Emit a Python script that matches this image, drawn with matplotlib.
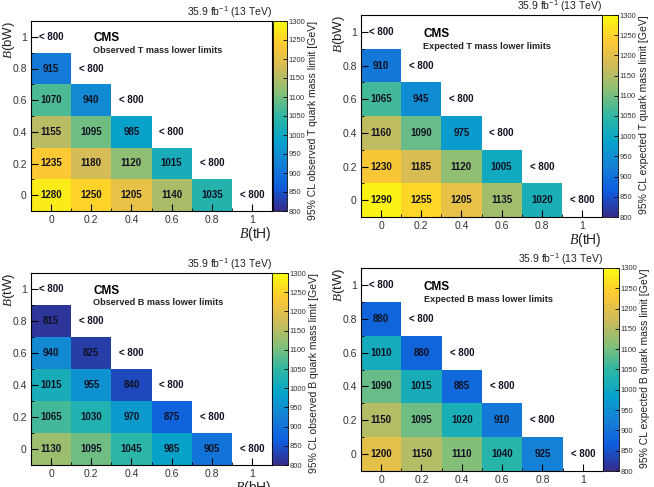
import numpy as np
import matplotlib
matplotlib.use("Agg")
import matplotlib.pyplot as plt
from matplotlib.colors import LinearSegmentedColormap
from matplotlib.transforms import offset_copy

plt.rcParams["font.family"] = ["Liberation Sans", "DejaVu Sans"]
plt.rcParams["mathtext.fontset"] = "custom"
plt.rcParams["mathtext.it"] = "Liberation Serif:italic"
plt.rcParams["mathtext.rm"] = "Liberation Sans"

# branching fractions (bin centres)
fractions = [0.0, 0.2, 0.4, 0.6, 0.8, 1.0]
tick_labels = ["0", "0.2", "0.4", "0.6", "0.8", "1"]

# mass limits [GeV], one list per row (first = lowest row), left to right
t_obs = [[1280, 1250, 1205, 1140, 1035],
         [1235, 1180, 1120, 1015],
         [1155, 1095, 985],
         [1070, 940],
         [915]]
t_exp = [[1290, 1255, 1205, 1135, 1020],
         [1230, 1185, 1120, 1005],
         [1160, 1090, 975],
         [1065, 945],
         [910]]
b_obs = [[1130, 1095, 1045, 985, 905],
         [1065, 1030, 970, 875],
         [1015, 955, 840],
         [940, 825],
         [815]]
b_exp = [[1200, 1150, 1110, 1040, 925],
         [1150, 1095, 1020, 910],
         [1090, 1015, 885],
         [1010, 880],
         [880]]

cb_ticks = list(range(800, 1301, 50))

# ROOT kBird palette
stops = [0, 0.125, 0.25, 0.375, 0.5, 0.625, 0.75, 0.875, 1]
red = [0.2082, 0.0592, 0.0780, 0.0232, 0.1802, 0.5301, 0.8186, 0.9956, 0.9764]
green = [0.1664, 0.3599, 0.5041, 0.6419, 0.7178, 0.7492, 0.7328, 0.7862, 0.9832]
blue = [0.5293, 0.8684, 0.8385, 0.7914, 0.6425, 0.4662, 0.3499, 0.1968, 0.0539]
bird = LinearSegmentedColormap.from_list(
    "bird", list(zip(stops, zip(red, green, blue))))

panels = [
    (t_obs, "Observed T mass lower limits", r"$\mathit{B}$(tH)", r"$\mathit{B}$(bW)",
     "95% CL observed T quark mass limit [GeV]",
     [31, 272, 21, 211], [273, 287]),
    (t_exp, "Expected T mass lower limits", r"$\mathit{B}$(tH)", r"$\mathit{B}$(bW)",
     "95% CL expected T quark mass limit [GeV]",
     [361, 602, 15, 217], [602, 618]),
    (b_obs, "Observed B mass lower limits", r"$\mathit{B}$(bH)", r"$\mathit{B}$(tW)",
     "95% CL observed B quark mass limit [GeV]",
     [31, 272, 273, 465], [272, 288]),
    (b_exp, "Expected B mass lower limits", r"$\mathit{B}$(bH)", r"$\mathit{B}$(tW)",
     "95% CL expected B quark mass limit [GeV]",
     [361, 603, 268, 471], [603, 619]),
]

W, H = 654, 487
fig = plt.figure(figsize=(W / 100, H / 100), dpi=100)

edges = np.arange(-0.1, 1.2, 0.2)

for rows, title, xlab, ylab, cblab, box, cbx in panels:
    l, r, t, b = box
    ax = fig.add_axes([l / W, (H - b) / H, (r - l) / W, (b - t) / H])
    cax = fig.add_axes([cbx[0] / W, (H - b) / H, (cbx[1] - cbx[0]) / W, (b - t) / H])

    grid = np.full((6, 6), np.nan)
    for j, row in enumerate(rows):
        for i, v in enumerate(row):
            grid[j, i] = v
    mesh = ax.pcolormesh(edges, edges, np.ma.masked_invalid(grid),
                         cmap=bird, vmin=800, vmax=1300)

    for j, yv in enumerate(fractions):
        for i, xv in enumerate(fractions):
            if i + j < 5:
                txt = str(int(grid[j, i]))
            elif i + j == 5:
                txt = "< 800"
            else:
                continue
            ax.text(xv, yv, txt, ha="center", va="center",
                    fontsize=7, fontweight="bold", color="#111122")

    ax.set_xlim(-0.1, 1.1)
    ax.set_ylim(-0.1, 1.1)
    ax.set_xticks(fractions)
    ax.set_xticklabels(tick_labels)
    ax.set_yticks(fractions)
    ax.set_yticklabels(tick_labels)
    ax.set_xticks(np.arange(-0.1, 1.11, 0.1), minor=True)
    ax.set_yticks(np.arange(-0.1, 1.11, 0.1), minor=True)
    ax.tick_params(which="both", direction="in", labelsize=7.5, color="black",
                   labelcolor="#333333")
    ax.tick_params(which="major", length=5, pad=3)
    ax.tick_params(which="minor", length=2.5)
    for s in ax.spines.values():
        s.set_linewidth(0.8)

    ax.set_xlabel(xlab, fontsize=10, loc="right", labelpad=0, color="#222222")
    ax.set_ylabel(ylab, fontsize=9.5, loc="top", color="#222222")
    ax.yaxis.set_label_coords(-14 / (r - l), 1.0)

    ax.text(0.21, 0.99, "CMS", fontsize=8.5, fontweight="bold", va="center")
    ax.text(0.21, 0.915, title, fontsize=6.6, fontweight="bold", va="center",
            color="#222222")
    ax.text(1.0, 1.0, r"35.9 fb$^{\mathregular{-1}}$ (13 TeV)",
            transform=offset_copy(ax.transAxes, fig=fig, y=0.5, units="points"),
            ha="right", va="bottom", fontsize=7.5, color="#222222")

    cb = fig.colorbar(mesh, cax=cax, ticks=cb_ticks)
    cb.outline.set_linewidth(0.6)
    cax.tick_params(labelsize=5.5, direction="in", length=3, width=0.6,
                    labelcolor="#333333", pad=1)
    cb.set_label(cblab, fontsize=7.5, labelpad=2, loc="top", color="#222222")

fig.savefig("out.png", dpi=100)
